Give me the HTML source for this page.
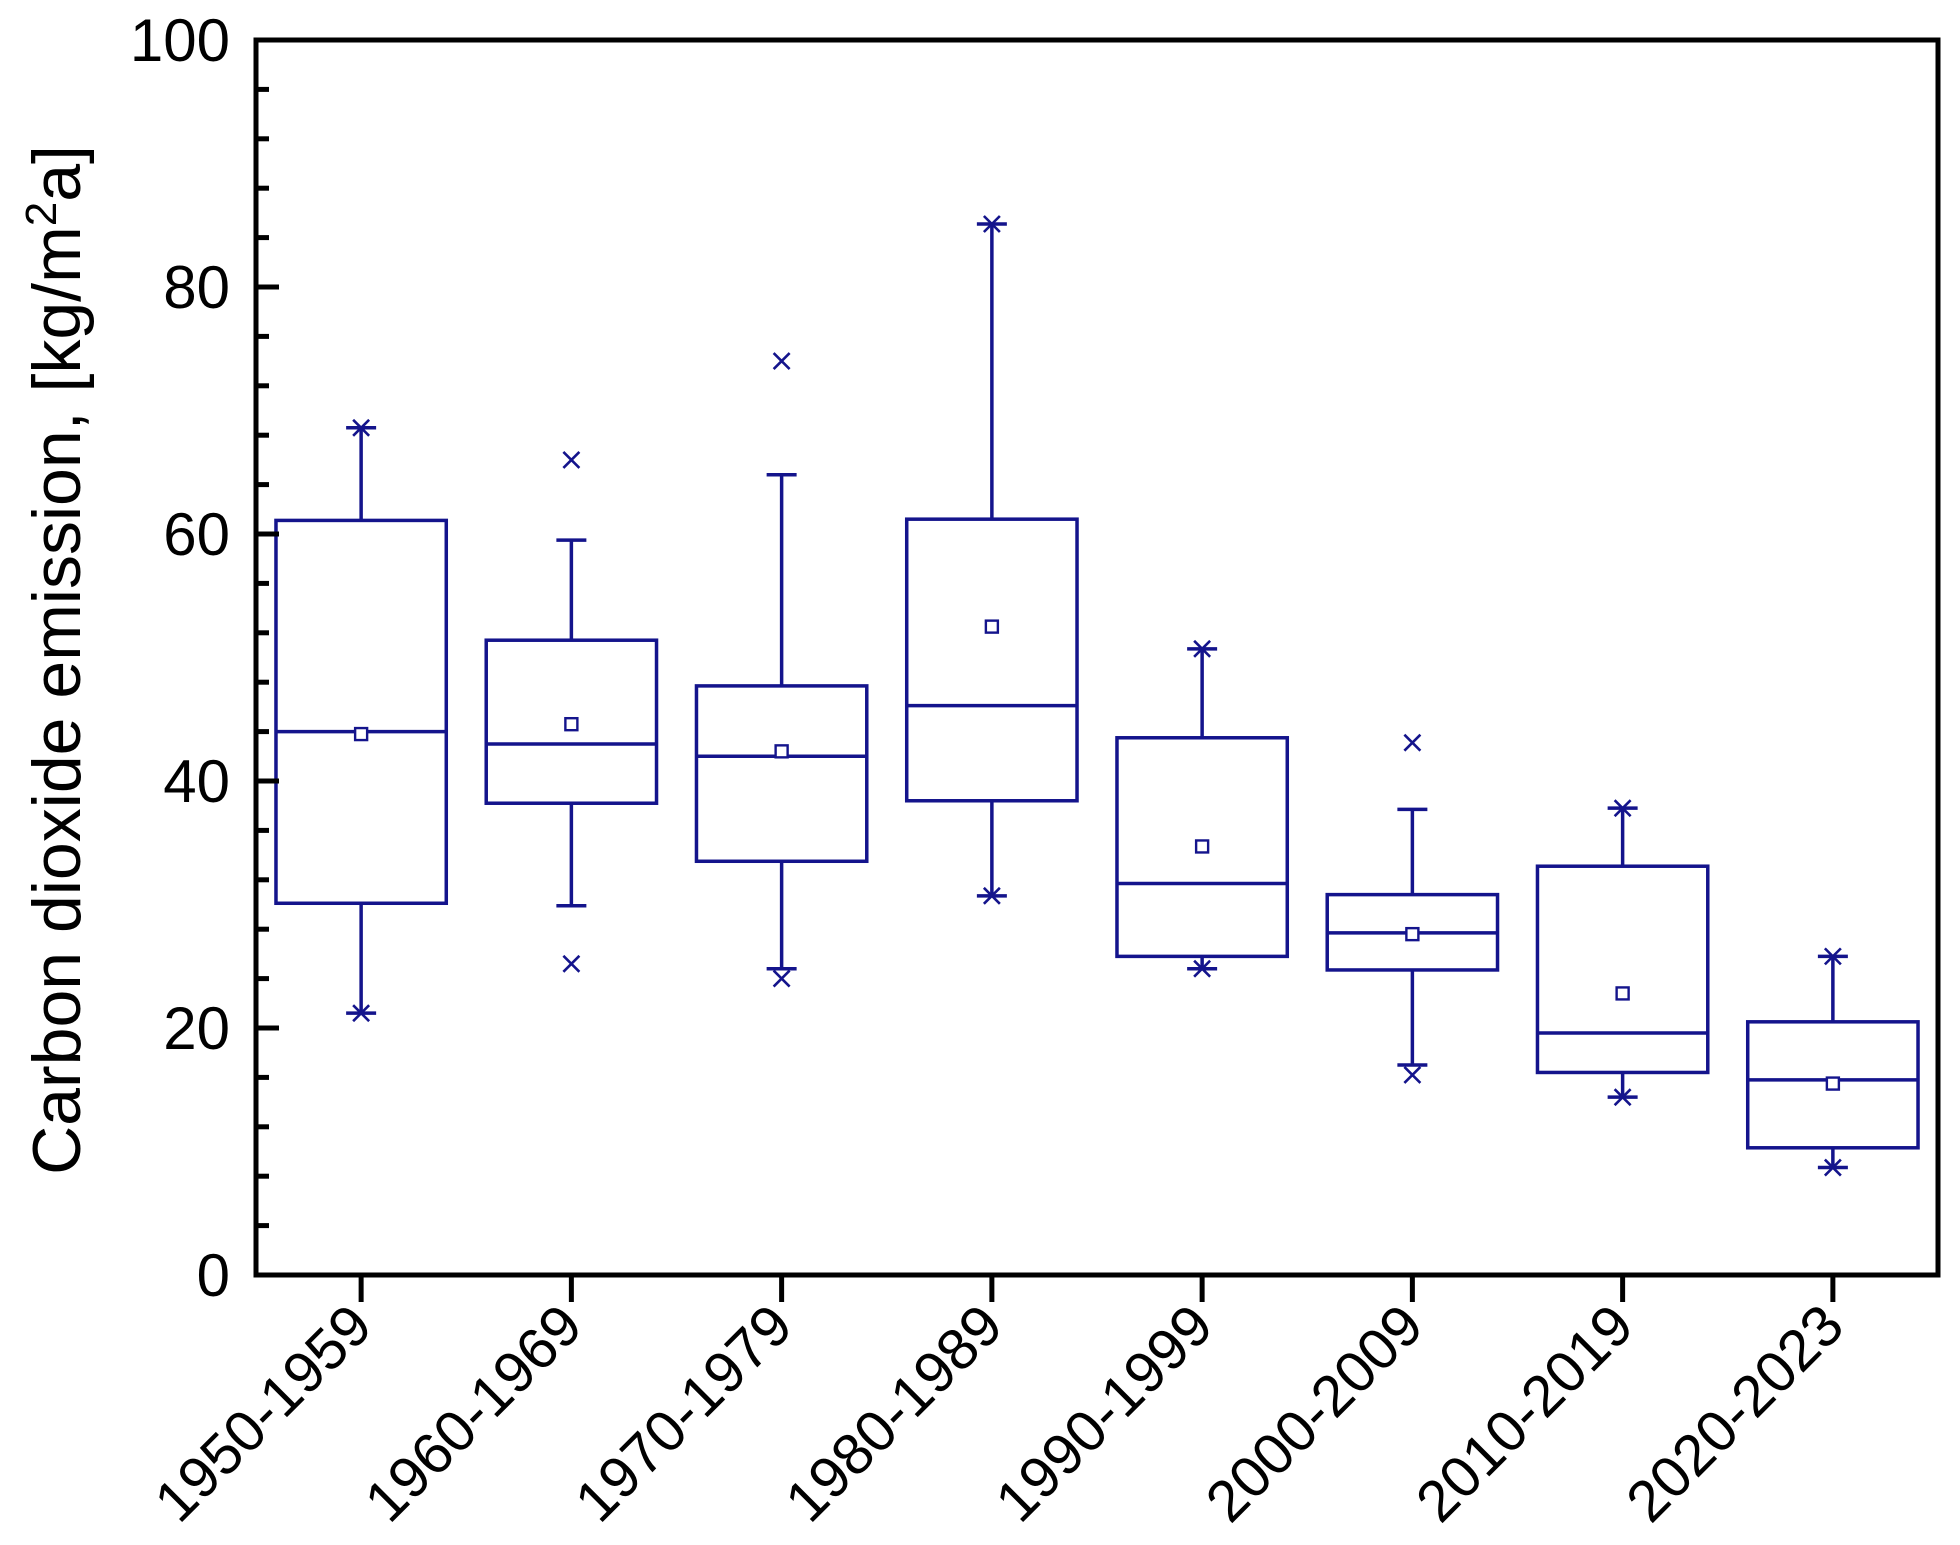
<!DOCTYPE html>
<html><head><meta charset="utf-8"><style>
html,body{margin:0;padding:0;background:#fff;}
svg text{font-family:"Liberation Sans",Arial,sans-serif;}
</style></head><body>
<svg id="chart" width="1960" height="1540" viewBox="0 0 1960 1540" xmlns="http://www.w3.org/2000/svg">
<g id="marks"></g>
<g id="axes"></g>
</svg>
<script>
const categories = ["1950-1959","1960-1969","1970-1979","1980-1989","1990-1999","2000-2009","2010-2019","2020-2023"];
const q1 = [30.1, 38.2, 33.5, 38.4, 25.8, 24.7, 16.4, 10.3];
const q3 = [61.1, 51.4, 47.7, 61.2, 43.5, 30.8, 33.1, 20.5];
const medians = [44.0, 43.0, 42.0, 46.1, 31.7, 27.7, 19.6, 15.8];
const means = [43.8, 44.6, 42.4, 52.5, 34.7, 27.6, 22.8, 15.5];
const whiskerLow = [21.2, 29.9, 24.8, 30.7, 24.8, 17.0, 14.4, 8.7];
const whiskerHigh = [68.6, 59.5, 64.8, 85.1, 50.7, 37.7, 37.8, 25.8];
const outlierLow = [21.2, 25.2, 24.0, 30.7, 24.8, 16.2, 14.4, 8.7];
const outlierHigh = [68.6, 66.0, 74.0, 85.1, 50.7, 43.1, 37.8, 25.8];
const yTicks = [0, 20, 40, 60, 80, 100];

const NS = "http://www.w3.org/2000/svg";
const L = 256, R = 1938, T = 40, B = 1275;
const yMin = 0, yMax = 100;
const step = (R - L) / categories.length;
const xPos = i => L + step * (i + 0.5);
const yPos = v => B - (v - yMin) / (yMax - yMin) * (B - T);
const col = "#14148c";
const marks = document.getElementById("marks");
const axes = document.getElementById("axes");
function mk(tag, attrs, parent) {
  const e = document.createElementNS(NS, tag);
  for (const k in attrs) e.setAttribute(k, attrs[k]);
  parent.appendChild(e);
  return e;
}
function cross(x, y, g) {
  const s = 8;
  const a = mk("path", {d:`M${x-s},${y-s}L${x+s},${y+s}M${x-s},${y+s}L${x+s},${y-s}`, stroke:col, "stroke-width":2.6, fill:"none"}, g);
  
  
}
const bw = step * 0.81, cap = 30;
categories.forEach((c, i) => {
  const x = xPos(i);
  const g = mk("g", {}, marks);
  
  
  const wl = mk("line", {x1:x, x2:x, y1:yPos(q3[i]), y2:yPos(whiskerHigh[i]), stroke:col, "stroke-width":3.5}, g);
  
  
  const wl2 = mk("line", {x1:x, x2:x, y1:yPos(q1[i]), y2:yPos(whiskerLow[i]), stroke:col, "stroke-width":3.5}, g);
  
  
  [whiskerHigh[i], whiskerLow[i]].forEach(v => {
    const cp = mk("line", {x1:x-cap/2, x2:x+cap/2, y1:yPos(v), y2:yPos(v), stroke:col, "stroke-width":3.5}, g);
    
    
  });
  const rect = mk("rect", {x:x-bw/2, y:yPos(q3[i]), width:bw, height:yPos(q1[i])-yPos(q3[i]), fill:"none", stroke:col, "stroke-width":3.5}, g);
  
  
  const md = mk("line", {x1:x-bw/2, x2:x+bw/2, y1:yPos(medians[i]), y2:yPos(medians[i]), stroke:col, "stroke-width":3.5}, g);
  
  
  const mn = mk("rect", {x:x-6, y:yPos(means[i])-6, width:12, height:12, fill:"#fff", stroke:col, "stroke-width":2.4}, g);
  
  
  cross(x, yPos(outlierHigh[i]), g);
  cross(x, yPos(outlierLow[i]), g);
  const tk = mk("line", {x1:x, x2:x, y1:B, y2:B+27, stroke:"#000", "stroke-width":5}, axes);
  
  
  const t = mk("text", {x:x+14, y:B+54, "text-anchor":"end", "font-size":58, transform:`rotate(-45 ${x+14} ${B+54})`}, axes);
  
  
  t.textContent = c;
});
for (let v = 0; v <= 100; v += 4) {
  const major = v % 20 === 0;
  const tk = mk("line", {x1:L, x2:L+(major?23:13), y1:yPos(v), y2:yPos(v), stroke:"#000", "stroke-width":5}, axes);
  
  
}
yTicks.forEach(v => {
  const t = mk("text", {x:230, y:yPos(v)+21, "text-anchor":"end", "font-size":60}, axes);
  
  
  t.textContent = v;
});
const frame = mk("rect", {x:L, y:T, width:R-L, height:B-T, fill:"none", stroke:"#000", "stroke-width":5}, axes);


const yt = mk("text", {x:0, y:0, "text-anchor":"middle", "font-size":68, transform:"translate(80 660) rotate(-90)"}, axes);


yt.innerHTML = 'Carbon dioxide emission, [kg/m<tspan baseline-shift="super" font-size="44">2</tspan>a]';
</script>
</body></html>
